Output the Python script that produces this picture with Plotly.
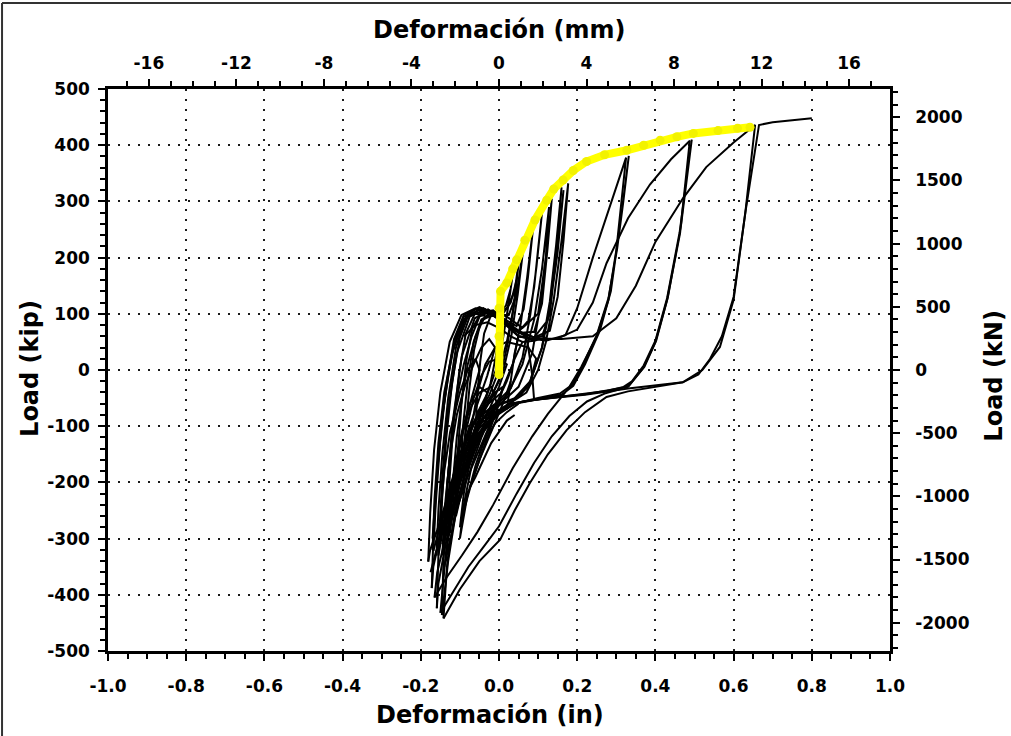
import plotly.graph_objects as go

# ---------------- data ----------------
# displacement in inches, load in kip
env_x = [0.000, 0.000, 0.000, 0.004, 0.020, 0.035, 0.045, 0.066, 0.092, 0.122, 0.140, 0.164,
         0.190, 0.224, 0.270, 0.327, 0.370, 0.412, 0.455, 0.497, 0.560, 0.610, 0.642]
env_y = [-8, 60, 110, 140, 155, 180, 196, 231, 267, 302, 322, 338,
         355, 371, 383, 391, 400, 409, 415, 421, 426, 430, 432]

c1_x = [0.000, 0.000, 0.003, 0.010, 0.004, -0.008, -0.022, -0.038, -0.050, -0.060]
c1_y = [0, 60, 105, 130, 80, 25, -25, -60, -85, -105]

c2_x = [-0.060, -0.056, -0.048, -0.038, -0.022, 0.000, 0.018, 0.030, 0.036, 0.024, 0.010,
        -0.008, -0.030, -0.052, -0.070, -0.083, -0.092]
c2_y = [-105, -50, 15, 65, 95, 100, 115, 145, 175, 115, 55, 0, -42, -72, -105, -140, -170]

c3_x = [-0.092, -0.086, -0.076, -0.064, -0.048, -0.025, 0.000, 0.025, 0.045, 0.055, 0.062,
        0.048, 0.032, 0.012, -0.018, -0.048, -0.078, -0.098, -0.112]
c3_y = [-170, -110, -35, 35, 82, 102, 98, 98, 135, 180, 215, 135, 62, 2, -45, -72, -110, -165, -220]

c4_x = [-0.112, -0.106, -0.096, -0.084, -0.068, -0.045, -0.015, 0.015, 0.045, 0.063, 0.074,
        0.082, 0.087, 0.072, 0.056, 0.036, 0.004, -0.036, -0.078, -0.108, -0.124, -0.132]
c4_y = [-220, -150, -62, 15, 75, 102, 106, 90, 78, 108, 165, 215, 252, 165, 85, 12, -42,
        -65, -110, -175, -225, -265]

c5_x = [-0.132, -0.126, -0.116, -0.102, -0.085, -0.062, -0.028, 0.010, 0.050, 0.075, 0.090,
        0.100, 0.110, 0.096, 0.080, 0.060, 0.030, -0.010, -0.060, -0.100, -0.128, -0.144, -0.150]
c5_y = [-265, -190, -92, -5, 65, 100, 108, 88, 68, 88, 148, 215, 280, 185, 98, 22, -33,
        -60, -90, -148, -215, -265, -300]

c6_x = [-0.150, -0.145, -0.135, -0.120, -0.100, -0.078, -0.040, 0.000, 0.050, 0.090, 0.110,
        0.124, 0.135, 0.121, 0.105, 0.085, 0.050, 0.000, -0.050, -0.100, -0.138, -0.158, -0.168]
c6_y = [-300, -222, -122, -22, 58, 98, 110, 92, 66, 68, 118, 215, 305, 205, 112, 30, -30,
        -62, -92, -160, -245, -295, -322]

c7_x = [-0.168, -0.162, -0.151, -0.136, -0.115, -0.090, -0.050, -0.010, 0.040, 0.090, 0.124,
        0.145, 0.160, 0.146, 0.130, 0.110, 0.075, 0.030, -0.020, -0.070, -0.120, -0.158,
        -0.176, -0.181]
c7_y = [-322, -240, -132, -32, 55, 98, 112, 100, 70, 58, 88, 190, 325, 222, 122, 40, -30,
        -58, -80, -120, -200, -285, -320, -341]

cA_x = [-0.181, -0.176, -0.166, -0.150, -0.126, -0.096, -0.060, -0.020, 0.030, 0.090, 0.130,
        0.150, 0.165, 0.177, 0.160, 0.140, 0.120, 0.100, 0.070, 0.030, -0.020, -0.070,
        -0.120, -0.152, -0.168, -0.172]
cA_y = [-341, -255, -142, -40, 50, 98, 110, 104, 75, 58, 70, 130, 230, 332, 230, 125, 50, 0,
        -40, -58, -85, -130, -220, -300, -350, -388]

cB1_x = [-0.172, -0.168, -0.158, -0.143, -0.120, -0.090, -0.050, 0.000, 0.050, 0.120, 0.170,
         0.200, 0.240, 0.280, 0.310, 0.325, 0.300, 0.280, 0.250, 0.210, 0.180, 0.156, 0.100,
         0.050, 0.000, -0.050, -0.100, -0.135, -0.158, -0.165]
cB1_y = [-388, -300, -180, -70, 30, 90, 108, 92, 60, 52, 62, 110, 200, 285, 345, 378, 213,
         125, 60, 5, -30, -42, -50, -58, -75, -110, -190, -290, -360, -405]

cB2_x = [-0.165, -0.135, -0.095, -0.055, -0.015, 0.035, 0.085, 0.125, 0.160, 0.190, 0.212,
         0.250, 0.280, 0.302, 0.318, 0.332, 0.310, 0.286, 0.258, 0.220, 0.190, 0.160, 0.100,
         0.040, 0.000, -0.050, -0.100, -0.135, -0.155, -0.159]
cB2_y = [-405, -370, -330, -288, -240, -175, -118, -78, -48, -22, 5, 62, 128, 215, 300, 381,
         260, 140, 70, 10, -28, -44, -52, -60, -78, -115, -200, -305, -380, -424]

cC1_x = [-0.159, -0.155, -0.146, -0.132, -0.108, -0.075, -0.035, 0.015, 0.080, 0.150, 0.200,
         0.240, 0.275, 0.330, 0.386, 0.440, 0.488, 0.463, 0.430, 0.400, 0.370, 0.330, 0.280,
         0.220, 0.150, 0.090, 0.030, -0.010, -0.060, -0.105, -0.135, -0.150]
cC1_y = [-424, -330, -200, -80, 30, 95, 108, 82, 55, 56, 72, 120, 190, 270, 330, 375, 408,
         243, 125, 50, 5, -30, -36, -43, -48, -53, -60, -80, -120, -210, -320, -432]

cC2_x = [-0.150, -0.118, -0.078, -0.040, 0.000, 0.045, 0.090, 0.135, 0.180, 0.225, 0.270,
         0.310, 0.340, 0.370, 0.400, 0.430, 0.462, 0.493, 0.466, 0.432, 0.402, 0.372, 0.332,
         0.270, 0.200, 0.130, 0.070, 0.020, -0.020, -0.065, -0.105, -0.130, -0.146]
cC2_y = [-432, -395, -350, -315, -278, -220, -165, -118, -82, -56, -42, -34, -20, 8, 52, 128,
         245, 410, 260, 130, 52, 6, -28, -38, -44, -50, -55, -62, -85, -130, -230, -340, -436]

cD_x = [-0.146, -0.142, -0.133, -0.118, -0.095, -0.062, -0.025, 0.020, 0.080, 0.160, 0.240,
        0.300, 0.350, 0.400, 0.470, 0.530, 0.600, 0.655, 0.630, 0.600, 0.565, 0.520, 0.470,
        0.400, 0.330, 0.220, 0.090, 0.030, 0.000, -0.040, -0.080, -0.112, -0.132, -0.142]
cD_y = [-436, -340, -210, -90, 25, 92, 106, 85, 55, 55, 60, 92, 150, 228, 305, 361, 405, 436,
        280, 125, 41, 0, -22, -28, -33, -44, -53, -60, -75, -110, -170, -250, -340, -442]

cF_x = [-0.142, -0.100, -0.050, 0.003, 0.040, 0.079, 0.125, 0.173, 0.220, 0.275, 0.330, 0.400,
        0.470, 0.510, 0.540, 0.570, 0.600, 0.630, 0.665, 0.700, 0.750, 0.800]
cF_y = [-442, -390, -340, -302, -250, -201, -150, -107, -75, -48, -38, -30, -22, -8, 20, 60,
        130, 280, 436, 441, 445, 448]

# extra small loops inside the dense cluster
s1_x = [-0.100, -0.092, -0.080, -0.065, -0.045, -0.020, 0.005, 0.030, 0.045, 0.035, 0.020,
        0.000, -0.030, -0.060, -0.085, -0.100]
s1_y = [-200, -100, -20, 50, 90, 100, 95, 120, 160, 100, 40, -20, -60, -100, -150, -200]

s2_x = [-0.120, -0.110, -0.095, -0.075, -0.050, -0.030, -0.045, -0.070, -0.095, -0.120]
s2_y = [-260, -180, -110, -60, -30, -40, -80, -130, -190, -260]

s3_x = [-0.140, -0.132, -0.120, -0.105, -0.090, -0.070, -0.050, -0.020, 0.020, 0.060, 0.100,
        0.120, 0.128, 0.110, 0.090, 0.060, 0.020, -0.030, -0.080, -0.120, -0.145]
s3_y = [-300, -200, -110, -40, 10, 60, 95, 105, 95, 75, 100, 200, 290, 180, 90, 10, -45,
        -75, -130, -220, -310]

s4_x = [-0.160, -0.155, -0.145, -0.130, -0.110, -0.085, -0.060, -0.030, 0.010, 0.050, 0.080,
        0.110, 0.130, 0.150, 0.165, 0.150, 0.130, 0.110, 0.080, 0.040, -0.010, -0.050,
        -0.090, -0.130, -0.160, -0.175]
s4_y = [-330, -250, -150, -50, 40, 95, 108, 104, 85, 60, 55, 60, 100, 220, 320, 210, 110, 40,
        -20, -50, -65, -95, -150, -240, -320, -360]

s5_x = [-0.060, -0.075, -0.090, -0.105, -0.110, -0.100, -0.085, -0.070, -0.055, -0.040,
        -0.020, -0.035, -0.050]
s5_y = [-100, -140, -190, -240, -260, -230, -180, -140, -105, -90, -95, -120, -150]

s6_x = [-0.170, -0.160, -0.148, -0.130, -0.110, -0.090, -0.070]
s6_y = [-300, -200, -100, -10, 60, 95, 102]

s7_x = [-0.125, -0.118, -0.108, -0.095, -0.080, -0.060, -0.040, -0.010, 0.020, 0.040, 0.050,
        0.040, 0.020, 0.000, -0.025, -0.055, -0.090, -0.115, -0.130]
s7_y = [-290, -200, -120, -50, 10, 60, 90, 100, 110, 140, 190, 120, 50, 0, -45, -80, -140,
        -210, -280]

s8_x = [-0.145, -0.138, -0.125, -0.108, -0.088, -0.065, -0.045, -0.025, -0.010, -0.030,
        -0.055, -0.080, -0.105, -0.128, -0.145]
s8_y = [-330, -240, -150, -80, -30, 10, 40, 55, 40, -10, -60, -110, -170, -250, -330]

s9_x = [-0.080, -0.070, -0.055, -0.035, -0.010, 0.020, 0.050, 0.075, 0.095, 0.080, 0.055,
        0.030, 0.005, -0.025, -0.055, -0.080]
s9_y = [-170, -100, -40, 10, 40, 50, 45, 40, 20, -20, -45, -55, -60, -80, -120, -170]

s10_x = [-0.135, -0.128, -0.115, -0.098, -0.075, -0.050, -0.020, -0.005, -0.025, -0.050,
         -0.080, -0.105, -0.125, -0.140]
s10_y = [-340, -260, -180, -120, -70, -40, -30, -60, -100, -140, -190, -240, -300, -350]

s11_x = [-0.020, -0.040, -0.070, -0.090, -0.100, -0.090, -0.075, -0.055, -0.035, -0.010,
         0.010, 0.000, -0.020]
s11_y = [-100, -140, -200, -250, -280, -220, -160, -110, -70, -40, -30, -60, -100]

s12_x = [0.030, 0.010, -0.020, -0.050, -0.080, -0.100, -0.090, -0.070, -0.045, -0.020,
         0.000, 0.020, 0.040, 0.060]
s12_y = [-20, -60, -110, -160, -220, -300, -240, -170, -120, -80, -50, -20, 20, 50]

s13_x = [0.050, 0.020, -0.010, -0.040, -0.060, -0.075, -0.060, -0.040, -0.020, 0.000,
         0.020, 0.040]
s13_y = [-60, -75, -95, -130, -170, -210, -190, -160, -130, -110, -90, -80]

s14_x = [0.020, 0.030, 0.040, 0.050, 0.070, 0.075, 0.085, 0.090]
s14_y = [-70, -20, 30, 60, 58, 40, -10, -55]

s15_x = [-0.155, -0.150, -0.140, -0.125, -0.100, -0.080, -0.060, -0.050, -0.070, -0.095,
         -0.120, -0.140, -0.155]
s15_y = [-330, -260, -180, -110, -40, 0, 20, 0, -50, -120, -200, -270, -330]

s16_x = [-0.170, -0.165, -0.155, -0.140, -0.120, -0.100, -0.080, -0.060, -0.030]
s16_y = [-320, -230, -130, -40, 30, 75, 95, 100, 95]

s17_x = [-0.110, -0.100, -0.085, -0.065, -0.045, -0.025, 0.000, 0.020, 0.000, -0.025,
         -0.050, -0.075, -0.095, -0.110]
s17_y = [-250, -180, -110, -50, -10, 15, 20, 10, -30, -70, -120, -170, -220, -250]

s18_x = [-0.090, -0.060, -0.030, 0.000, 0.030, 0.060, 0.090, 0.120]
s18_y = [60, 80, 85, 75, 60, 50, 52, 58]

cycles = [(c1_x, c1_y), (c2_x, c2_y), (c3_x, c3_y), (c4_x, c4_y), (c5_x, c5_y),
          (c6_x, c6_y), (c7_x, c7_y), (cA_x, cA_y), (cB1_x, cB1_y), (cB2_x, cB2_y),
          (cC1_x, cC1_y), (cC2_x, cC2_y), (cD_x, cD_y), (cF_x, cF_y),
          (s1_x, s1_y), (s2_x, s2_y), (s3_x, s3_y), (s4_x, s4_y), (s5_x, s5_y),
          (s6_x, s6_y), (s7_x, s7_y), (s8_x, s8_y), (s9_x, s9_y), (s10_x, s10_y),
          (s11_x, s11_y), (s12_x, s12_y), (s13_x, s13_y), (s14_x, s14_y),
          (s15_x, s15_y), (s16_x, s16_y), (s17_x, s17_y), (s18_x, s18_y)]

# tick labels
x_in_ticks = [-1.0, -0.8, -0.6, -0.4, -0.2, 0.0, 0.2, 0.4, 0.6, 0.8, 1.0]
x_in_text = ["-1.0", "-0.8", "-0.6", "-0.4", "-0.2", "0.0", "0.2", "0.4", "0.6", "0.8", "1.0"]
x_mm_ticks = [-16, -12, -8, -4, 0, 4, 8, 12, 16]
x_mm_text = ["-16", "-12", "-8", "-4", "0", "4", "8", "12", "16"]
y_kip_ticks = [-500, -400, -300, -200, -100, 0, 100, 200, 300, 400, 500]
y_kip_text = ["-500", "-400", "-300", "-200", "-100", "0", "100", "200", "300", "400", "500"]
y_kn_ticks = [-2000, -1500, -1000, -500, 0, 500, 1000, 1500, 2000]
y_kn_text = ["-2000", "-1500", "-1000", "-500", "0", "500", "1000", "1500", "2000"]
x_mm_range = [-17.87, 17.87]
y_kn_range = [-2224, 2224]

# ---------------- figure ----------------
FONT = "DejaVu Sans"
tickfont = dict(family=FONT, size=17, color="black", weight="bold")
titlefont = dict(family=FONT, size=24, color="black", weight="bold")

fig = go.Figure()
for xs, ys in cycles:
    fig.add_trace(go.Scatter(x=xs, y=ys, mode="lines", line=dict(color="black", width=2.0),
                             showlegend=False, hoverinfo="skip"))
fig.add_trace(go.Scatter(x=env_x, y=env_y, mode="lines+markers",
                         line=dict(color="#ffff00", width=8),
                         marker=dict(size=9, color="#f2f200"),
                         showlegend=False, hoverinfo="skip"))
# invisible helper trace so that the secondary (mm / kN) axes are drawn
fig.add_trace(go.Scatter(x=x_mm_range, y=y_kn_range, xaxis="x2", yaxis="y2", mode="markers",
                         marker=dict(opacity=0), showlegend=False, hoverinfo="skip"))

grid = dict(showgrid=True, gridcolor="#1a1a1a", gridwidth=1.8, griddash="2px,8px")
axline = dict(showline=True, linecolor="black", linewidth=2.5, zeroline=False,
              ticks="outside", ticklen=7, tickwidth=2, tickcolor="black", tickfont=tickfont)

fig.update_layout(
    width=1011, height=736,
    margin=dict(l=108, r=121, t=89, b=85, autoexpand=False),
    paper_bgcolor="white", plot_bgcolor="white",
    showlegend=False,
    xaxis=dict(range=[-1, 1], tickmode="array", tickvals=x_in_ticks, ticktext=x_in_text,
               minor=dict(dtick=0.05, tick0=0, ticks="outside", ticklen=5, tickwidth=1.5,
                          tickcolor="black", showgrid=False),
               ticklabelstandoff=11, **grid, **axline),
    yaxis=dict(range=[-500, 500], tickmode="array", tickvals=y_kip_ticks, ticktext=y_kip_text,
               minor=dict(dtick=20, tick0=0, ticks="outside", ticklen=5, tickwidth=1.5,
                          tickcolor="black", showgrid=False),
               ticklabelstandoff=5, **grid, **axline),
    xaxis2=dict(overlaying="x", side="top", anchor="y", range=x_mm_range,
                tickmode="array", tickvals=x_mm_ticks, ticktext=x_mm_text,
                minor=dict(dtick=1, tick0=0, ticks="outside", ticklen=5, tickwidth=1.5,
                           tickcolor="black", showgrid=False),
                showgrid=False, ticklabelstandoff=3, **axline),
    yaxis2=dict(overlaying="y", side="right", anchor="x", range=y_kn_range,
                tickmode="array", tickvals=y_kn_ticks, ticktext=y_kn_text,
                minor=dict(dtick=100, tick0=0, ticks="outside", ticklen=5, tickwidth=1.5,
                           tickcolor="black", showgrid=False),
                showgrid=False, ticklabelstandoff=12, **axline),
    annotations=[
        dict(text="Deformación (mm)", xref="paper", yref="paper", x=0.501, y=1.105,
             showarrow=False, font=titlefont, xanchor="center", yanchor="middle"),
        dict(text="Deformación (in)", xref="paper", yref="paper", x=0.489, y=-0.114,
             showarrow=False, font=titlefont, xanchor="center", yanchor="middle"),
        dict(text="Load (kip)", xref="paper", yref="paper", x=-0.0997, y=0.502, textangle=-90,
             showarrow=False, font=titlefont, xanchor="center", yanchor="middle"),
        dict(text="Load (kN)", xref="paper", yref="paper", x=1.133, y=0.49, textangle=-90,
             showarrow=False, font=titlefont, xanchor="center", yanchor="middle"),
    ],
    shapes=[
        dict(type="line", xref="paper", yref="paper", x0=-0.1355, x1=1.16, y0=1.1530, y1=1.1530,
             line=dict(color="#333333", width=2)),
        dict(type="line", xref="paper", yref="paper", x0=-0.1355, x1=-0.1355, y0=1.1530, y1=-0.16,
             line=dict(color="#333333", width=2)),
    ],
)

fig.write_html("out.html")
